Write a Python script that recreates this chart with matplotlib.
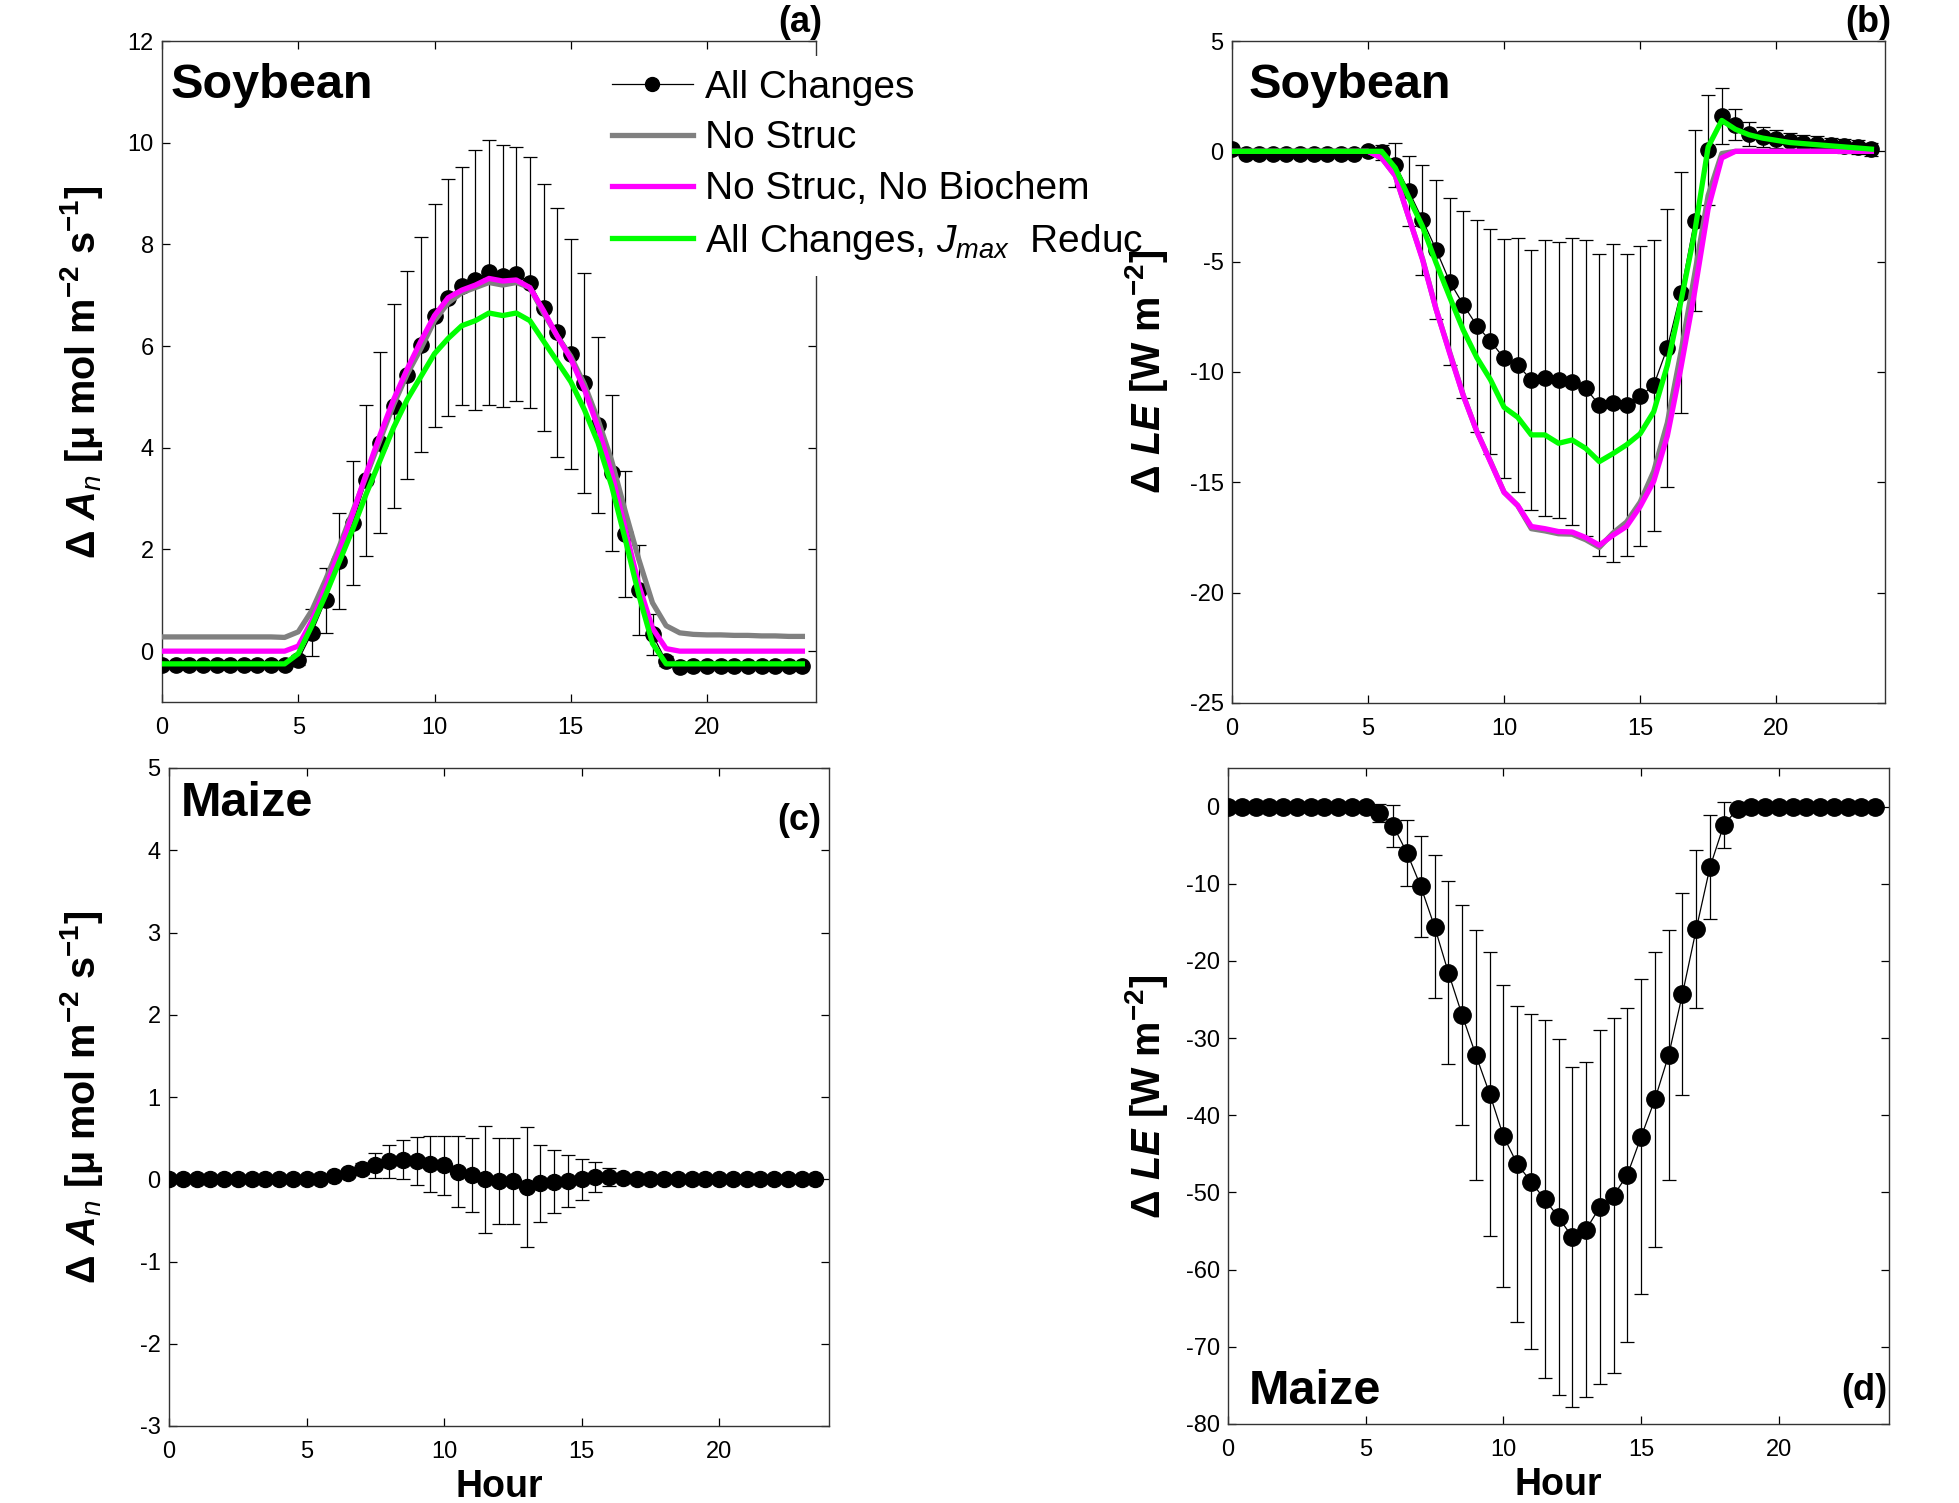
import matplotlib
matplotlib.use('Agg')
import matplotlib.pyplot as plt
from matplotlib.lines import Line2D
import numpy as np

plt.rcParams['font.family'] = ['Liberation Sans', 'DejaVu Sans']
plt.rcParams['mathtext.fontset'] = 'custom'
plt.rcParams['mathtext.rm'] = 'Liberation Sans'
plt.rcParams['mathtext.it'] = 'Liberation Sans:italic'
plt.rcParams['mathtext.bf'] = 'Liberation Sans:bold'
plt.rcParams['mathtext.bfit'] = 'Liberation Sans:italic:bold'
plt.rcParams['axes.unicode_minus'] = False

# half-hourly time axis
hours = np.arange(0, 24, 0.5)

# (a) soybean, change in net assimilation
soy_an_all = [-0.27] * 10 + [-0.18, 0.36, 1.0, 1.77, 2.52, 3.36, 4.1, 4.82, 5.43, 6.03,
                             6.6, 6.95, 7.18, 7.3, 7.45, 7.38, 7.42, 7.25, 6.75, 6.27,
                             5.85, 5.28, 4.45, 3.5, 2.3, 1.2, 0.33, -0.2, -0.32] + [-0.3] * 9
soy_an_err = [0] * 10 + [0.1, 0.46, 0.64, 0.94, 1.22, 1.48, 1.78, 2.0, 2.05, 2.12,
                         2.2, 2.33, 2.34, 2.55, 2.6, 2.58, 2.5, 2.47, 2.43, 2.45,
                         2.26, 2.16, 1.73, 1.54, 1.24, 0.89, 0.4, 0.1, 0] + [0] * 9
soy_an_nostruc = [0.28] * 9 + [0.27, 0.38, 0.8, 1.4, 2.05, 2.75, 3.45, 4.15, 4.85, 5.45, 5.95,
                               6.5, 6.85, 7.05, 7.15, 7.25, 7.2, 7.25, 7.15, 6.65, 6.2,
                               5.8, 5.25, 4.55, 3.75, 2.75, 1.8, 0.95, 0.5, 0.36, 0.33,
                               0.32, 0.32, 0.31, 0.31, 0.3, 0.3, 0.29, 0.29]
soy_an_nobio = [0.0] * 10 + [0.1, 0.6, 1.25, 1.95, 2.7, 3.5, 4.25, 4.95, 5.55, 6.1,
                             6.6, 6.95, 7.1, 7.2, 7.33, 7.28, 7.3, 7.15, 6.7, 6.2,
                             5.75, 5.15, 4.4, 3.5, 2.4, 1.3, 0.45, 0.05] + [0.0] * 10
soy_an_jmax = [-0.25] * 10 + [-0.05, 0.5, 1.1, 1.75, 2.4, 3.1, 3.75, 4.4, 4.95, 5.4,
                              5.85, 6.15, 6.4, 6.5, 6.65, 6.6, 6.65, 6.5, 6.1, 5.7,
                              5.3, 4.75, 4.1, 3.25, 2.2, 1.1, 0.15, -0.25] + [-0.25] * 10

# (b) soybean, change in latent heat flux
soy_le_all = [0.1] + [-0.1] * 9 + [0.0, -0.05, -0.6, -1.8, -3.1, -4.45, -5.9, -6.95, -7.9, -8.6,
                                   -9.38, -9.68, -10.36, -10.28, -10.36, -10.44, -10.74, -11.5, -11.4, -11.5,
                                   -11.1, -10.6, -8.9, -6.4, -3.15, 0.05, 1.6, 1.2, 0.8, 0.65,
                                   0.55, 0.45, 0.4, 0.33, 0.28, 0.25, 0.2, 0.1]
soy_le_err = [0] * 11 + [0.35, 1.0, 1.6, 2.5, 3.15, 3.8, 4.25, 4.8, 5.1,
                         5.42, 5.76, 5.9, 6.25, 6.25, 6.5, 6.7, 6.85, 7.2, 6.85,
                         6.8, 6.6, 6.3, 5.45, 4.1, 2.5, 1.25, 0.7, 0.55, 0.45,
                         0.4, 0.38, 0.35, 0.35, 0.33, 0.32, 0.3, 0.3]
soy_le_nostruc = [0.0] * 11 + [-0.3, -1.1, -3.0, -4.85, -7.15, -9.1, -11.05, -12.7, -14.05,
                               -15.45, -16.05, -17.1, -17.2, -17.33, -17.35, -17.6, -17.95, -17.3, -16.8,
                               -15.9, -14.5, -12.3, -9.1, -5.6, -2.0, -0.1] + [0.0] * 11
soy_le_nobio = [0.0] * 11 + [-0.3, -1.1, -3.0, -4.9, -7.15, -9.15, -11.07, -12.7, -14.08,
                             -15.45, -16.05, -17.0, -17.1, -17.23, -17.25, -17.5, -17.85, -17.4, -17.0,
                             -16.1, -14.95, -12.9, -9.8, -6.4, -2.6, -0.3] + [0.0] * 11
soy_le_jmax = [0.0] * 12 + [-0.75, -2.1, -3.4, -5.05, -6.6, -8.1, -9.35, -10.35,
                            -11.6, -12.05, -12.85, -12.85, -13.23, -13.08, -13.46, -14.06, -13.7, -13.3,
                            -12.8, -11.8, -9.7, -6.8, -3.7, 0.2, 1.4, 1.0, 0.75, 0.6,
                            0.5, 0.4, 0.35, 0.3, 0.25, 0.2, 0.15, 0.1]

# (c) maize, change in net assimilation
mz_an_all = [0.0] * 12 + [0.04, 0.08, 0.13, 0.17, 0.22, 0.24, 0.22, 0.18,
                          0.17, 0.09, 0.05, 0.0, -0.02, -0.02, -0.09, -0.05, -0.03, -0.02,
                          0.0, 0.03, 0.03, 0.01] + [0.0] * 14
mz_an_err = [0] * 13 + [0.02, 0.07, 0.15, 0.2, 0.24, 0.29, 0.34,
                        0.36, 0.43, 0.45, 0.65, 0.52, 0.52, 0.73, 0.47, 0.38, 0.32,
                        0.25, 0.18, 0.11, 0.04] + [0] * 14

# (d) maize, change in latent heat flux
mz_le_all = [-0.1] * 11 + [-0.8, -2.5, -6.0, -10.35, -15.55, -21.5, -27.0, -32.2, -37.2,
                           -42.7, -46.3, -48.6, -50.9, -53.2, -55.8, -54.8, -51.9, -50.4, -47.7,
                           -42.8, -37.95, -32.2, -24.3, -15.9, -7.85, -2.4, -0.3] + [-0.1] * 10
mz_le_err = [0] * 11 + [1.2, 2.7, 4.3, 6.6, 9.25, 11.8, 14.2, 16.15, 18.4,
                        19.6, 20.5, 21.7, 23.2, 23.05, 22.0, 21.65, 22.9, 23.05, 21.65,
                        20.4, 19.15, 16.15, 13.1, 10.25, 6.75, 3.0, 0.3] + [0] * 10

legend_labels = ['All Changes', 'No Struc', 'No Struc, No Biochem',
                 'All Changes, $J_{max}$  Reduc']
xticks = [0, 5, 10, 15, 20]

W, H = 1959, 1503
fig = plt.figure(figsize=(W / 100, H / 100), dpi=100)


def px_axes(l, t, r, b):
    return fig.add_axes([l / W, 1 - b / H, (r - l) / W, (b - t) / H])


ax_a = px_axes(162, 41, 816, 702)
ax_b = px_axes(1232, 41, 1885, 703)
ax_c = px_axes(169, 768, 829, 1426)
ax_d = px_axes(1228, 768, 1889, 1424)


def style(ax, ylim, yticks):
    ax.set_xlim(0, 24)
    ax.set_ylim(*ylim)
    ax.set_xticks(xticks)
    ax.set_yticks(yticks)
    ax.tick_params(direction='in', top=True, right=True, length=6, width=0.9,
                   labelsize=17, colors='k')
    ax.tick_params(axis='x', pad=11)
    ax.tick_params(axis='y', pad=6)
    for s in ax.spines.values():
        s.set_linewidth(1.0)
        s.set_color('#333333')


def black_series(ax, y, err, ms):
    ax.errorbar(hours, y, yerr=err, fmt='none', ecolor='k', elinewidth=0.9,
                capsize=4.7, capthick=0.9, zorder=2)
    return ax.plot(hours, y, '-o', color='k', lw=0.9, ms=ms, zorder=3)[0]


LW = 3.8

# (a)
black_series(ax_a, soy_an_all, soy_an_err, 11)
ax_a.plot(hours, soy_an_nostruc, color='#808080', lw=LW, zorder=4)
ax_a.plot(hours, soy_an_nobio, color='#ff00ff', lw=LW, zorder=5)
ax_a.plot(hours, soy_an_jmax, color='#00ff00', lw=LW, zorder=6)
style(ax_a, (-1, 12), range(0, 13, 2))

# (b)
black_series(ax_b, soy_le_all, soy_le_err, 11)
ax_b.plot(hours, soy_le_nostruc, color='#808080', lw=LW, zorder=4)
ax_b.plot(hours, soy_le_nobio, color='#ff00ff', lw=LW, zorder=5)
ax_b.plot(hours, soy_le_jmax, color='#00ff00', lw=LW, zorder=6)
style(ax_b, (-25, 5), range(-25, 6, 5))

# (c)
black_series(ax_c, mz_an_all, mz_an_err, 11.5)
style(ax_c, (-3, 5), range(-3, 6))

# (d)
black_series(ax_d, mz_le_all, mz_le_err, 12.5)
style(ax_d, (-80, 5), range(-80, 1, 10))

for ax in (ax_c, ax_d):
    ax.set_xlabel('Hour', fontsize=27, fontweight='bold', labelpad=4)

leg_handles = [Line2D([], [], color='k', marker='o', ms=10, lw=0.9),
               Line2D([], [], color='#808080', lw=LW),
               Line2D([], [], color='#ff00ff', lw=LW),
               Line2D([], [], color='#00ff00', lw=LW)]
leg = ax_a.legend(leg_handles, legend_labels, loc='upper left',
                  bbox_to_anchor=(598 / W, 1 - 56 / H), bbox_transform=fig.transFigure,
                  fontsize=28, frameon=True, facecolor='white', edgecolor='none',
                  framealpha=1, fancybox=False, handlelength=2.1, handletextpad=0.3,
                  labelspacing=0.38, borderpad=0.35, borderaxespad=0)
leg.set_zorder(20)


def ftext(x, y, s, **kw):
    fig.text(x / W, 1 - y / H, s, **kw)


an_label = 'Δ $\\mathbfit{A}_{\\mathit{n}}$ [μ mol m$^{\\mathbf{-2}}$ s$^{\\mathbf{-1}}$]'
le_label = 'Δ $\\mathbfit{LE}$ [W m$^{\\mathbf{-2}}$]'
lab_kw = dict(rotation=90, ha='center', va='center', fontsize=28.5, fontweight='bold')
ftext(82, 372, an_label, **lab_kw)
ftext(1147, 372, le_label, **lab_kw)
ftext(82, 1097, an_label, **lab_kw)
ftext(1147, 1097, le_label, **lab_kw)

name_kw = dict(ha='left', va='center', fontsize=35, fontweight='bold')
ftext(171, 85, 'Soybean', **name_kw)
ftext(1249, 85, 'Soybean', **name_kw)
ftext(181, 804, 'Maize', **name_kw)
ftext(1249, 1391, 'Maize', **name_kw)

tag_kw = dict(ha='right', va='center', fontsize=26, fontweight='bold')
ftext(822, 22, '(a)', **tag_kw)
ftext(1891, 22, '(b)', **tag_kw)
ftext(821, 821, '(c)', **tag_kw)
ftext(1887, 1390, '(d)', **tag_kw)

fig.savefig('out.png', dpi=100, facecolor='white')
